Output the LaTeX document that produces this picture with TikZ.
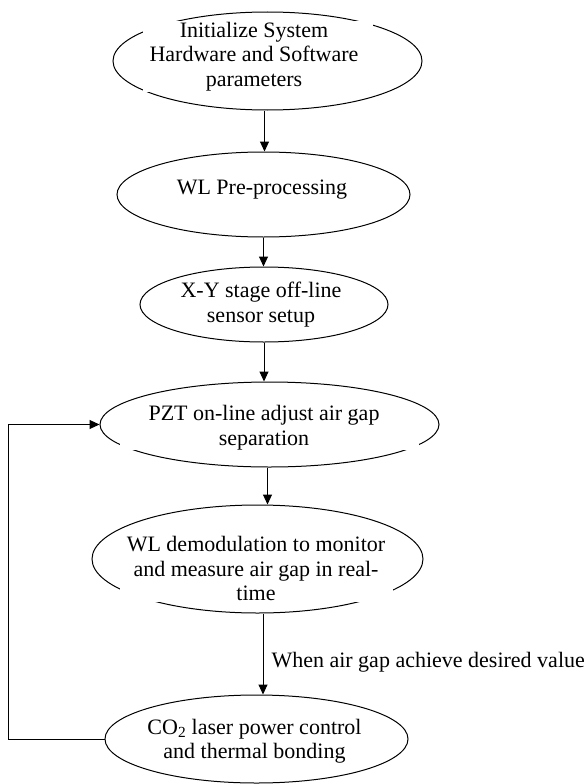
\documentclass[tikz,border=0pt]{standalone}
\usepackage{fontspec}
\setmainfont{Liberation Serif}
\usetikzlibrary{shapes.geometric,arrows.meta}
\begin{document}
\begin{tikzpicture}[x=1pt,y=-1pt,
  ell/.style={draw, ellipse, line width=1pt, inner sep=0pt},
  txt/.style={align=center, inner sep=0pt, font=\fontsize{22}{24.5}\selectfont},
  arr/.style={draw, line width=1pt, -{Triangle[length=10pt,width=9pt]}},
  mask/.style={fill=white}]
\useasboundingbox (0,0) rectangle (586,784);

% process stages
\node[ell, minimum width=309, minimum height=98] (n1) at (267.5,61) {};
\fill[mask] (143,21) rectangle (373,92);
\node[txt] (t1) at (254,56.5) {Initialize System\\Hardware and Software\\parameters};

\node[ell, minimum width=293, minimum height=85] (n2) at (263.5,194.5) {};
\node[txt] (t2) at (262,190) {WL Pre-processing};

\node[ell, minimum width=248, minimum height=75] (n3) at (264,304.5) {};
\node[txt] (t3) at (261,304.5) {X-Y stage off-line\\sensor setup};

\node[ell, minimum width=339, minimum height=85] (n4) at (269.5,424.5) {};
\fill[mask] (120,406) rectangle (419,450);
\node[txt] (t4) at (264,427.5) {PZT on-line adjust air gap\\separation};

\node[ell, minimum width=331, minimum height=108] (n5) at (257.5,559) {};
\fill[mask] (120,530) rectangle (393,602);
\node[txt] (t5) at (256,568.5) {WL demodulation to monitor\\and measure air gap in real-\\time};

\node[ell, minimum width=303, minimum height=88] (n6) at (256.5,739) {};
\node[txt] (t6) at (254.5,741) {CO\textsubscript{2} laser power control\\and thermal bonding};

% forward flow
\draw[arr] ([xshift=-3pt]n1.south) -- ([xshift=-3pt]n1.south |- n2.north);
\draw[arr] (n2.south) -- (n2.south |- n3.north);
\draw[arr] (n3.south) -- (n3.south |- n4.north);
\draw[arr] ([xshift=-2pt]n4.south) -- ([xshift=-2pt]n4.south |- n5.north);
\draw[arr] ([xshift=5.5pt]n5.south) -- ([xshift=5.5pt]n5.south |- n6.north)
  node[pos=0.5, anchor=west, inner sep=0pt, xshift=8pt, yshift=-8pt, font=\fontsize{22}{24}\selectfont] (cond) {When air gap achieve desired value};

% feedback loop back to the air-gap adjustment
\coordinate (fb) at (8,739);
\draw[arr] (n6.west) -- (fb) |- (n4.west);
\end{tikzpicture}
\end{document}
